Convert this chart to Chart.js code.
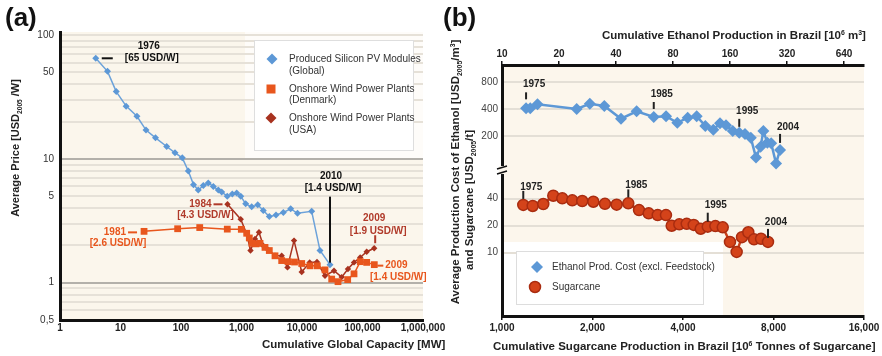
<!DOCTYPE html>
<html>
<head>
<meta charset="utf-8">
<script src="https://cdn.jsdelivr.net/npm/chart.js@4.4.1/dist/chart.umd.min.js"></script>
<style>
html, body { margin: 0; padding: 0; background: #fff; }
#wrap { position: relative; width: 882px; height: 356px; overflow: hidden; }
canvas { position: absolute; left: 0; top: 0; }
</style>
</head>
<body>
<div id="wrap">
  <canvas id="chartA" width="882" height="356"></canvas>
  <canvas id="chartB" width="882" height="356"></canvas>
</div>
<script>
// ---- panel (a): price vs cumulative global capacity ----
const pvCap   = [3.9, 6.1, 8.5, 12.4, 18.7, 26.4, 37.9, 58, 79.6, 105, 132, 161, 193, 234, 282, 342, 414, 471, 582, 705, 833, 971, 1173, 1475, 1854, 2291, 2882, 3718, 4909, 6500, 8430, 14450, 19850, 29040];
const pvPrice = [65, 51, 35, 26.7, 22.1, 17.1, 14.8, 12.6, 11.2, 10.2, 8.0, 6.2, 5.6, 6.1, 6.4, 6.0, 5.6, 5.4, 5.0, 5.2, 5.3, 5.0, 4.34, 4.1, 4.26, 3.83, 3.42, 3.53, 3.69, 3.95, 3.64, 3.78, 1.82, 1.4];

const dkCap   = [24.5, 88, 204, 582, 993, 1219, 1346, 1492, 1738, 2024, 2445, 2882, 3580, 4616, 5870, 7520, 9890, 13560, 17900, 23990, 30960, 39360, 56890, 72400, 92000, 117300, 156700];
const dkPrice = [2.6, 2.73, 2.79, 2.71, 2.70, 2.51, 2.30, 2.08, 2.06, 2.08, 1.93, 1.82, 1.65, 1.51, 1.48, 1.47, 1.43, 1.37, 1.37, 1.27, 1.07, 1.02, 1.06, 1.18, 1.48, 1.46, 1.4];

const usCap   = [587, 971, 1219, 1409, 1672, 1945, 2291, 2773, 3580, 4616, 5750, 7380, 9890, 13400, 17700, 23990, 33800, 45300, 57500, 72400, 91600, 117300, 156000];
const usPrice = [4.3, 3.26, 2.48, 1.82, 2.26, 2.56, 1.99, 1.84, 1.65, 1.65, 1.33, 2.19, 1.22, 1.46, 1.47, 1.14, 1.25, 1.11, 1.29, 1.46, 1.60, 1.78, 1.9];

const xTicksA  = [1, 10, 100, 1000, 10000, 100000, 1000000];
const xLabelsA = ['1', '10', '100', '1,000', '10,000', '100,000', '1,000,000'];
const yGridA   = [0.5, 0.6, 0.7, 0.8, 0.9, 1, 2, 3, 4, 5, 6, 7, 8, 9, 10, 20, 30, 40, 50, 60, 70, 80, 90, 100];
const yTicksA  = [0.5, 1, 5, 10, 50, 100];
const yLabelsA = ['0,5', '1', '5', '10', '50', '100'];

// ---- panel (b): Brazil ethanol / sugarcane ----
const etCap  = [13.4, 14.1, 15.4, 24.8, 29.1, 34.7, 42.5, 51.4, 63.3, 73.5, 84.3, 95.6, 106.7, 118.5, 130.6, 141.7, 152.4, 165.4, 179, 192, 206, 219.5, 232, 240, 252, 264, 280, 294];
const etCost = [407, 407, 451, 400, 458, 432, 312, 377, 326, 332, 281, 320, 332, 259, 235, 277, 263, 227, 217, 210, 191, 115, 152, 227, 168, 166, 99, 140];

const scCap  = [1177, 1265, 1372, 1481, 1587, 1713, 1849, 2013, 2200, 2406, 2631, 2856, 3076, 3295, 3511, 3668, 3888, 4115, 4342, 4581, 4835, 5126, 5423, 5733, 6033, 6285, 6597, 6892, 7271, 7669];
const scCost = [34.1, 33.2, 34.9, 43.2, 40.4, 38.4, 37.7, 37.0, 35.1, 34.3, 35.5, 29.9, 27.5, 26.3, 26.3, 20.0, 20.7, 21.0, 20.4, 18.5, 19.5, 19.8, 19.2, 13.2, 10.2, 14.9, 16.9, 14.1, 14.3, 13.2];

const xTicksB  = [1000, 2000, 4000, 8000, 16000];
const xLabelsB = ['1,000', '2,000', '4,000', '8,000', '16,000'];
const x2TicksB = [10, 20, 40, 80, 160, 320, 640];
const yTicksB  = [10, 20, 40, 200, 400, 800];

const FONT = "'Liberation Sans', Arial, Helvetica, sans-serif";
Chart.defaults.font.family = FONT;

const BLUE = '#5d98d6', ORANGE = '#e8561d', DARKRED = '#a8321f', RED = '#d4431a';

function pts(xs, ys) { return xs.map((x, i) => ({ x: x, y: ys[i] })); }
function setTicks(vals) { return function (s) { s.ticks = vals.map(v => ({ value: v })); }; }
function labelFor(vals, labels) { return function (v) { const k = vals.indexOf(v); return k < 0 ? '' : labels[k]; }; }

function txt(ctx, s, x, y, size, opt) {
  opt = opt || {};
  ctx.font = (opt.bold ? 'bold ' : '') + size + 'px ' + FONT;
  ctx.fillStyle = opt.color || '#222';
  ctx.textAlign = opt.align || 'center';
  ctx.textBaseline = 'middle';
  ctx.fillText(s, x, y);
}

// parts: [text, 0 normal | 1 sub | 2 sup]
function rich(ctx, parts, x, y, size, align, rot) {
  ctx.save();
  ctx.translate(x, y);
  if (rot) ctx.rotate(-Math.PI / 2);
  ctx.textBaseline = 'alphabetic';
  ctx.textAlign = 'left';
  ctx.fillStyle = '#222';
  const small = size * 0.6;
  let w = 0;
  parts.forEach(p => { ctx.font = 'bold ' + (p[1] ? small : size) + 'px ' + FONT; w += ctx.measureText(p[0]).width; });
  let cx = align === 'left' ? 0 : -w / 2;
  parts.forEach(p => {
    ctx.font = 'bold ' + (p[1] ? small : size) + 'px ' + FONT;
    const dy = p[1] === 1 ? size * 0.28 : p[1] === 2 ? -size * 0.38 : 0;
    ctx.fillText(p[0], cx, size * 0.36 + dy);
    cx += ctx.measureText(p[0]).width;
  });
  ctx.restore();
}

function diamond(ctx, x, y, r, c) {
  ctx.fillStyle = c;
  ctx.beginPath(); ctx.moveTo(x, y - r); ctx.lineTo(x + r, y); ctx.lineTo(x, y + r); ctx.lineTo(x - r, y); ctx.closePath(); ctx.fill();
}

// year labels hung off a data point
function tag(chart, ds, i, color, items) {
  const p = chart.getDatasetMeta(ds).data[i];
  const ctx = chart.ctx;
  ctx.save();
  ctx.strokeStyle = color; ctx.lineWidth = 2;
  items.forEach(it => {
    if (it.l) {
      ctx.beginPath(); ctx.moveTo(p.x + it.l[0], p.y + it.l[1]); ctx.lineTo(p.x + it.l[2], p.y + it.l[3]); ctx.stroke();
    } else {
      txt(ctx, it.t, p.x + it.dx, p.y + it.dy, 10, { bold: true, color: color, align: it.a });
    }
  });
  ctx.restore();
}

const overlayA = {
  id: 'overlayA',
  beforeDraw(chart) {
    const { ctx, chartArea: a } = chart;
    ctx.save();
    ctx.fillStyle = '#fbf6ec';
    ctx.fillRect(a.left, a.top, a.right - a.left, a.bottom - a.top);
    ctx.fillStyle = '#fefcf9';
    ctx.fillRect(245, a.top, a.right - 245, 160 - a.top);
    ctx.restore();
  },
  afterDraw(chart) {
    const ctx = chart.ctx;
    ctx.save();
    txt(ctx, '(a)', 5, 19, 26, { bold: true, color: '#111', align: 'left' });
    rich(ctx, [['Average Price [USD', 0], ['2005', 1], [' /W]', 0]], 15, 148, 11, 'center', true);
    txt(ctx, 'Cumulative Global Capacity [MW]', 262, 345, 11.5, { bold: true, align: 'left' });

    // legend
    ctx.fillStyle = '#fff'; ctx.fillRect(254, 40, 159, 110);
    ctx.strokeStyle = '#dedede'; ctx.lineWidth = 1; ctx.strokeRect(254.5, 40.5, 159, 110);
    diamond(ctx, 272, 59, 5.5, BLUE);
    txt(ctx, 'Produced Silicon PV Modules', 289, 59, 10, { color: '#333', align: 'left' });
    txt(ctx, '(Global)', 289, 71, 10, { color: '#333', align: 'left' });
    ctx.fillStyle = ORANGE; ctx.fillRect(266.5, 84.5, 9, 9);
    txt(ctx, 'Onshore Wind Power Plants', 289, 89, 10, { color: '#333', align: 'left' });
    txt(ctx, '(Denmark)', 289, 100, 10, { color: '#333', align: 'left' });
    diamond(ctx, 271, 118, 5.5, DARKRED);
    txt(ctx, 'Onshore Wind Power Plants', 289, 118, 10, { color: '#333', align: 'left' });
    txt(ctx, '(USA)', 289, 130, 10, { color: '#333', align: 'left' });
    ctx.restore();

    tag(chart, 2, 0, '#111', [{ l: [6, 0, 17, 0] }, { t: '1976', dx: 53, dy: -12 }, { t: '[65 USD/W]', dx: 56, dy: 0 }]);
    tag(chart, 2, pvCap.length - 1, '#111', [{ l: [0, -68, 0, -2] }, { t: '2010', dx: 1, dy: -88 }, { t: '[1.4 USD/W]', dx: 3, dy: -76 }]);
    tag(chart, 0, 0, ORANGE, [{ l: [-16, 1, -7, 1] }, { t: '1981', dx: -18, dy: 1, a: 'right' }, { t: '[2.6 USD/W]', dx: -26, dy: 12 }]);
    tag(chart, 0, dkCap.length - 1, ORANGE, [{ l: [3, 1, 9, 1] }, { t: '2009', dx: 11, dy: 1, a: 'left' }, { t: '[1.4 USD/W]', dx: 24, dy: 13 }]);
    tag(chart, 1, 0, '#b03a2a', [{ l: [-14, 0, -5, 0] }, { t: '1984', dx: -16, dy: 0, a: 'right' }, { t: '[4.3 USD/W]', dx: -22, dy: 11 }]);
    tag(chart, 1, usCap.length - 1, '#b03a2a', [{ l: [1, -13, 1, -5] }, { t: '2009', dx: 0, dy: -30 }, { t: '[1.9 USD/W]', dx: 4, dy: -17 }]);
  }
};

new Chart(document.getElementById('chartA'), {
  type: 'line',
  data: {
    datasets: [
      { label: 'Onshore Wind Power Plants (Denmark)', data: pts(dkCap, dkPrice), borderColor: ORANGE, backgroundColor: ORANGE,
        borderWidth: 1.5, pointStyle: 'rect', pointRadius: 4.8, pointBorderWidth: 0 },
      { label: 'Onshore Wind Power Plants (USA)', data: pts(usCap, usPrice), borderColor: DARKRED, backgroundColor: DARKRED,
        borderWidth: 1.5, pointStyle: 'rectRot', pointRadius: 3.2, pointBorderWidth: 0 },
      { label: 'Produced Silicon PV Modules (Global)', data: pts(pvCap, pvPrice), borderColor: '#6ca2da', backgroundColor: BLUE,
        borderWidth: 1.5, pointStyle: 'rectRot', pointRadius: 3.5, pointBorderWidth: 0 }
    ]
  },
  options: {
    responsive: false,
    animation: false,
    layout: { padding: { left: 0, top: 32, right: 459, bottom: 0 } },
    plugins: { legend: { display: false }, tooltip: { enabled: false } },
    scales: {
      x: {
        type: 'logarithmic', min: 1, max: 1000000,
        afterFit(s) { s.height = 36; },
        afterBuildTicks: setTicks(xTicksA),
        ticks: { callback: labelFor(xTicksA, xLabelsA), autoSkip: false, maxRotation: 0, padding: 2,
                 color: '#222', font: { size: 10, weight: 'bold' } },
        grid: { display: false, drawTicks: false },
        border: { color: '#111', width: 3 }
      },
      y: {
        type: 'logarithmic', min: 0.5, max: 106,
        afterFit(s) { s.width = 60; },
        afterBuildTicks: setTicks(yGridA),
        ticks: { callback: labelFor(yTicksA, yLabelsA), autoSkip: false, padding: 6,
                 color: '#333', font: { size: 10 } },
        grid: { drawTicks: false, lineWidth: 2,
                color: c => (c.tick && (c.tick.value === 1 || c.tick.value === 10)) ? '#b3b0aa' : '#e6e1d8' },
        border: { color: '#111', width: 3 }
      }
    }
  },
  plugins: [overlayA]
});

const overlayB = {
  id: 'overlayB',
  beforeDraw(chart) {
    const { ctx, chartArea: a } = chart;
    ctx.save();
    ctx.fillStyle = '#fcf6ec';
    ctx.fillRect(a.left, a.top, a.right - a.left, a.bottom - a.top);
    ctx.fillStyle = '#ffffff';
    ctx.fillRect(a.left, 242, 723 - a.left, a.bottom - 242);
    ctx.restore();
  },
  afterDraw(chart) {
    const ctx = chart.ctx;
    ctx.save();
    txt(ctx, '(b)', 443, 19, 26, { bold: true, color: '#111', align: 'left' });
    rich(ctx, [['Cumulative Ethanol Production in Brazil [10', 0], ['6', 2], [' m', 0], ['3', 2], [']', 0]], 602, 35, 11.5, 'left');
    rich(ctx, [['Cumulative Sugarcane Production in Brazil [10', 0], ['6', 2], [' Tonnes of Sugarcane]', 0]], 493, 346, 11.5, 'left');
    rich(ctx, [['Average Production Cost of Ethanol [USD', 0], ['2005', 1], ['/m', 0], ['3', 2], [']', 0]], 455, 172, 11.5, 'center', true);
    rich(ctx, [['and Sugarcane [USD', 0], ['2005', 1], ['/t]', 0]], 469, 200, 11.5, 'center', true);

    // axis break mark
    ctx.fillStyle = '#fcf6ec'; ctx.fillRect(499, 166, 7, 8);
    ctx.strokeStyle = '#111'; ctx.lineWidth = 1.5;
    ctx.beginPath(); ctx.moveTo(497, 169); ctx.lineTo(507, 166); ctx.moveTo(497, 174); ctx.lineTo(507, 171); ctx.stroke();

    // legend
    ctx.fillStyle = '#fff'; ctx.fillRect(516, 251, 187, 53);
    ctx.strokeStyle = '#dddddd'; ctx.lineWidth = 1; ctx.strokeRect(516.5, 251.5, 187, 53);
    diamond(ctx, 537, 267, 6, BLUE);
    txt(ctx, 'Ethanol Prod. Cost (excl. Feedstock)', 552, 267, 10, { color: '#333', align: 'left' });
    ctx.fillStyle = RED; ctx.strokeStyle = '#a92c10'; ctx.lineWidth = 1.5;
    ctx.beginPath(); ctx.arc(535, 287, 5.5, 0, Math.PI * 2); ctx.fill(); ctx.stroke();
    txt(ctx, 'Sugarcane', 552, 287, 10, { color: '#333', align: 'left' });
    ctx.restore();

    tag(chart, 0, 0, '#222', [{ l: [0, -16, 0, -9] }, { t: '1975', dx: 8, dy: -24 }]);
    tag(chart, 0, 8, '#222', [{ l: [0, -15, 0, -8] }, { t: '1985', dx: 8, dy: -23 }]);
    tag(chart, 0, 18, '#222', [{ l: [0, -14, 0, -6] }, { t: '1995', dx: 8, dy: -22 }]);
    tag(chart, 0, etCap.length - 1, '#222', [{ l: [0, -16, 0, -7] }, { t: '2004', dx: 8, dy: -23 }]);
    tag(chart, 1, 0, '#222', [{ l: [0, -14, 0, -6] }, { t: '1975', dx: 8, dy: -18 }]);
    tag(chart, 1, 10, '#222', [{ l: [0, -14, 0, -6] }, { t: '1985', dx: 8, dy: -18 }]);
    tag(chart, 1, 20, '#222', [{ l: [0, -14, 0, -5] }, { t: '1995', dx: 8, dy: -21 }]);
    tag(chart, 1, scCap.length - 1, '#222', [{ l: [0, -13, 0, -4] }, { t: '2004', dx: 8, dy: -20 }]);
  }
};

new Chart(document.getElementById('chartB'), {
  type: 'line',
  data: {
    datasets: [
      { label: 'Ethanol Prod. Cost (excl. Feedstock)', data: pts(etCap, etCost), xAxisID: 'x2',
        borderColor: BLUE, backgroundColor: BLUE, borderWidth: 2.5,
        pointStyle: 'rectRot', pointRadius: 6, pointBorderWidth: 0 },
      { label: 'Sugarcane', data: pts(scCap, scCost), xAxisID: 'x',
        borderColor: '#c93f1a', backgroundColor: RED, borderWidth: 2.5,
        pointStyle: 'circle', pointRadius: 5.5, pointBorderWidth: 1.5, pointBorderColor: '#a92c10' }
    ]
  },
  options: {
    responsive: false,
    animation: false,
    layout: { padding: { left: 440, top: 40, right: 18, bottom: 0 } },
    plugins: { legend: { display: false }, tooltip: { enabled: false } },
    scales: {
      x: {
        type: 'logarithmic', position: 'bottom', min: 1000, max: 16000,
        afterFit(s) { s.height = 40; },
        afterBuildTicks: setTicks(xTicksB),
        ticks: { callback: labelFor(xTicksB, xLabelsB), autoSkip: false, maxRotation: 0, padding: 2,
                 color: '#222', font: { size: 10, weight: 'bold' } },
        grid: { drawOnChartArea: false, drawTicks: true, tickLength: 4, color: '#111', lineWidth: 1.5 },
        border: { color: '#111', width: 3 }
      },
      x2: {
        type: 'logarithmic', position: 'top', min: 10, max: 816,
        afterFit(s) { s.height = 25; },
        afterBuildTicks: setTicks(x2TicksB),
        ticks: { callback: v => String(v), autoSkip: false, maxRotation: 0, padding: 1,
                 color: '#222', font: { size: 10, weight: 'bold' } },
        grid: { drawOnChartArea: false, drawTicks: true, tickLength: 4, color: '#111', lineWidth: 1.5 },
        border: { color: '#111', width: 3 }
      },
      y: {
        type: 'logarithmic', min: 1.97, max: 1238,
        afterFit(s) { s.width = 62; },
        afterBuildTicks: setTicks(yTicksB),
        ticks: { callback: v => String(v), autoSkip: false, padding: 4, color: '#444', font: { size: 10 } },
        grid: { drawTicks: false, lineWidth: 2, color: '#e4dfd6' },
        border: { color: '#111', width: 3 }
      }
    }
  },
  plugins: [overlayB]
});
</script>
</body>
</html>
